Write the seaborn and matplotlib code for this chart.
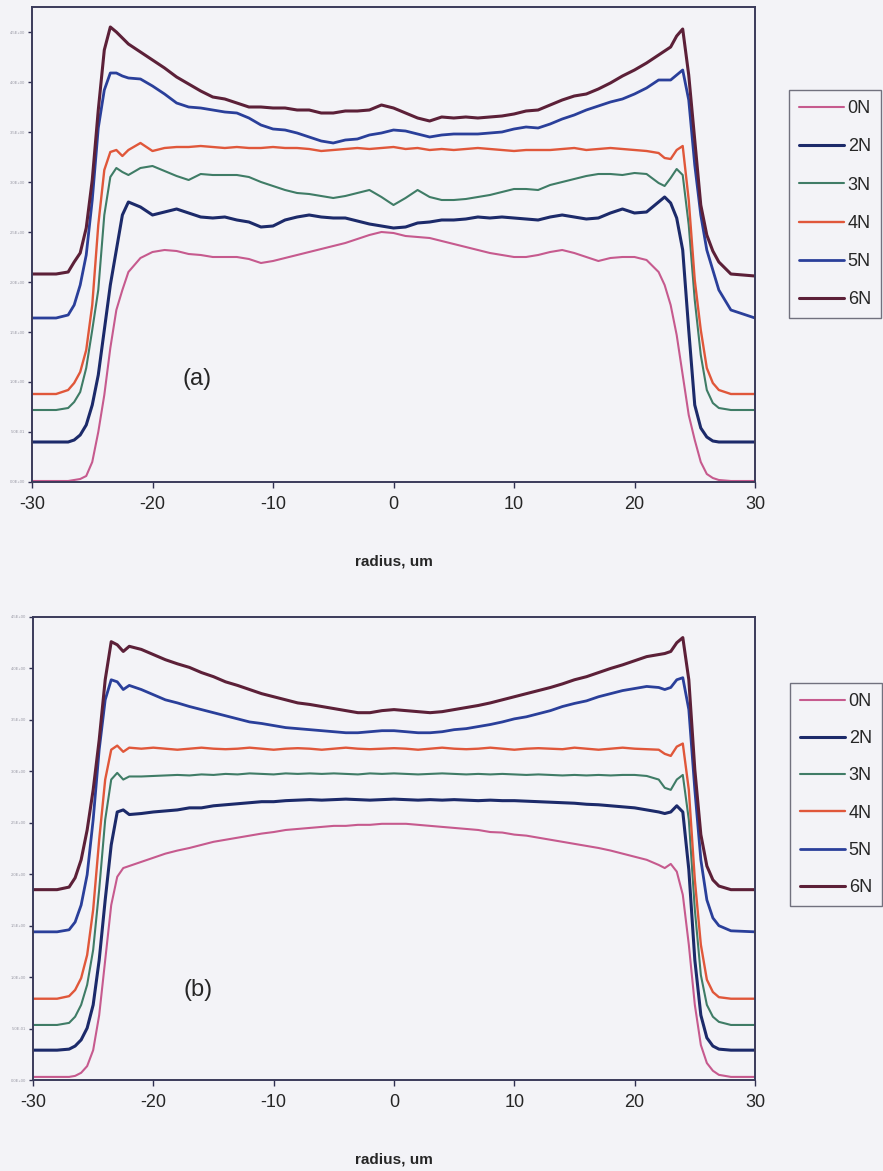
import numpy as np
import pandas as pd
import matplotlib
matplotlib.use('Agg')
import matplotlib.pyplot as plt
import seaborn as sns

# radius grid (um) shared by all profiles
radius = [-30, -28, -27, -26.5, -26, -25.5, -25, -24.5, -24, -23.5, -23, -22.5, -22,
          -21, -20, -19, -18, -17, -16, -15, -14, -13, -12, -11, -10, -9, -8, -7, -6, -5,
          -4, -3, -2, -1, 0, 1, 2, 3, 4, 5, 6, 7, 8, 9, 10, 11, 12, 13, 14, 15, 16, 17,
          18, 19, 20, 21,
          22, 22.5, 23, 23.5, 24, 24.5, 25, 25.5, 26, 26.5, 27, 28, 30]

loads = ['0N', '2N', '3N', '4N', '5N', '6N']

# panel (a) profiles
a_0N = [0.02, 0.02, 0.02, 0.04, 0.06, 0.12, 0.4, 1.0, 1.74, 2.68, 3.44, 3.84, 4.2,
        4.48, 4.6, 4.64, 4.62, 4.56, 4.54, 4.5, 4.5, 4.5, 4.46, 4.38, 4.42, 4.48, 4.54, 4.6, 4.66, 4.72,
        4.78, 4.86, 4.94, 5.0, 4.98, 4.92, 4.9, 4.88, 4.82, 4.76, 4.7, 4.64, 4.58, 4.54, 4.5, 4.5,
        4.54, 4.6, 4.64, 4.58, 4.5, 4.42, 4.48, 4.5, 4.5, 4.44,
        4.2, 3.94, 3.54, 2.94, 2.14, 1.34, 0.84, 0.4, 0.16, 0.08, 0.04, 0.02, 0.02]
a_2N = [0.8, 0.8, 0.8, 0.84, 0.94, 1.14, 1.54, 2.14, 3.04, 3.94, 4.64, 5.34, 5.6,
        5.5, 5.34, 5.4, 5.46, 5.38, 5.3, 5.28, 5.3, 5.24, 5.2, 5.1, 5.12, 5.24, 5.3, 5.34, 5.3, 5.28,
        5.28, 5.22, 5.16, 5.12, 5.08, 5.1, 5.18, 5.2, 5.24, 5.24, 5.26, 5.3, 5.28, 5.3, 5.28, 5.26,
        5.24, 5.3, 5.34, 5.3, 5.26, 5.28, 5.38, 5.46, 5.38, 5.4,
        5.6, 5.7, 5.58, 5.28, 4.64, 3.04, 1.54, 1.08, 0.9, 0.82, 0.8, 0.8, 0.8]
a_3N = [1.44, 1.44, 1.48, 1.6, 1.8, 2.28, 3.04, 3.84, 5.34, 6.1, 6.28, 6.2, 6.14,
        6.28, 6.32, 6.22, 6.12, 6.04, 6.16, 6.14, 6.14, 6.14, 6.1, 6.0, 5.92, 5.84, 5.78, 5.76, 5.72, 5.68,
        5.72, 5.78, 5.84, 5.7, 5.54, 5.68, 5.84, 5.7, 5.64, 5.64, 5.66, 5.7, 5.74, 5.8, 5.86, 5.86,
        5.84, 5.94, 6.0, 6.06, 6.12, 6.16, 6.16, 6.14, 6.18, 6.16,
        5.98, 5.92, 6.08, 6.26, 6.14, 5.14, 3.64, 2.54, 1.84, 1.58, 1.48, 1.44, 1.44]
a_4N = [1.76, 1.76, 1.84, 1.98, 2.2, 2.64, 3.54, 5.14, 6.24, 6.6, 6.64, 6.52, 6.64,
        6.78, 6.62, 6.68, 6.7, 6.7, 6.72, 6.7, 6.68, 6.7, 6.68, 6.68, 6.7, 6.68, 6.68, 6.66, 6.62, 6.64,
        6.66, 6.68, 6.66, 6.68, 6.7, 6.66, 6.68, 6.64, 6.66, 6.64, 6.66, 6.68, 6.66, 6.64, 6.62, 6.64,
        6.64, 6.64, 6.66, 6.68, 6.64, 6.66, 6.68, 6.66, 6.64, 6.62,
        6.58, 6.48, 6.46, 6.64, 6.72, 5.64, 4.04, 3.04, 2.28, 1.98, 1.84, 1.76, 1.76]
a_5N = [3.28, 3.28, 3.34, 3.54, 3.94, 4.54, 5.64, 7.08, 7.84, 8.18, 8.18, 8.12, 8.08,
        8.06, 7.92, 7.76, 7.58, 7.5, 7.48, 7.44, 7.4, 7.38, 7.28, 7.14, 7.06, 7.04, 6.98, 6.9, 6.82, 6.78,
        6.84, 6.86, 6.94, 6.98, 7.04, 7.02, 6.96, 6.9, 6.94, 6.96, 6.96, 6.96, 6.98, 7.0, 7.06, 7.1,
        7.08, 7.16, 7.26, 7.34, 7.44, 7.52, 7.6, 7.66, 7.76, 7.88,
        8.04, 8.04, 8.04, 8.14, 8.24, 7.64, 6.34, 5.34, 4.64, 4.24, 3.84, 3.44, 3.28]
a_6N = [4.16, 4.16, 4.2, 4.4, 4.58, 5.08, 6.04, 7.44, 8.64, 9.1, 9.0, 8.88, 8.76,
        8.6, 8.44, 8.28, 8.1, 7.96, 7.82, 7.7, 7.66, 7.58, 7.5, 7.5, 7.48, 7.48, 7.44, 7.44, 7.38, 7.38,
        7.42, 7.42, 7.44, 7.54, 7.48, 7.38, 7.28, 7.22, 7.3, 7.28, 7.3, 7.28, 7.3, 7.32, 7.36, 7.42,
        7.44, 7.54, 7.64, 7.72, 7.76, 7.86, 7.98, 8.12, 8.24, 8.38,
        8.54, 8.62, 8.7, 8.92, 9.06, 8.14, 6.84, 5.54, 4.94, 4.62, 4.4, 4.16, 4.12]

# panel (b) profiles
b_0N = [0.06, 0.06, 0.06, 0.08, 0.14, 0.27, 0.58, 1.26, 2.33, 3.4, 3.95, 4.12, 4.16,
        4.24, 4.32, 4.4, 4.46, 4.51, 4.57, 4.63, 4.67, 4.71, 4.75, 4.79, 4.82, 4.86, 4.88, 4.9, 4.92, 4.94,
        4.94, 4.96, 4.96, 4.98, 4.98, 4.98, 4.96, 4.94, 4.92, 4.9, 4.88, 4.86, 4.82, 4.81, 4.77, 4.75,
        4.71, 4.67, 4.63, 4.59, 4.55, 4.51, 4.46, 4.4, 4.34, 4.28,
        4.18, 4.12, 4.2, 4.05, 3.6, 2.63, 1.46, 0.68, 0.33, 0.18, 0.1, 0.06, 0.06]
b_2N = [0.58, 0.58, 0.6, 0.66, 0.78, 1.01, 1.46, 2.33, 3.5, 4.57, 5.21, 5.25, 5.16,
        5.18, 5.21, 5.23, 5.25, 5.29, 5.29, 5.33, 5.35, 5.37, 5.39, 5.41, 5.41, 5.43, 5.44, 5.45, 5.44, 5.45,
        5.46, 5.45, 5.44, 5.45, 5.46, 5.45, 5.44, 5.45, 5.44, 5.45, 5.44, 5.43, 5.44, 5.43, 5.43, 5.42,
        5.41, 5.4, 5.39, 5.38, 5.36, 5.35, 5.33, 5.31, 5.29, 5.25,
        5.21, 5.18, 5.21, 5.33, 5.21, 4.09, 2.33, 1.26, 0.82, 0.66, 0.6, 0.58, 0.58]
b_3N = [1.07, 1.07, 1.11, 1.23, 1.46, 1.85, 2.53, 3.7, 5.06, 5.84, 5.97, 5.84, 5.9,
        5.9, 5.91, 5.92, 5.93, 5.92, 5.94, 5.93, 5.95, 5.94, 5.96, 5.95, 5.94, 5.96, 5.95, 5.96, 5.95, 5.96,
        5.95, 5.94, 5.96, 5.95, 5.96, 5.95, 5.94, 5.95, 5.96, 5.95, 5.94, 5.95, 5.94, 5.95, 5.94, 5.93,
        5.94, 5.93, 5.92, 5.93, 5.92, 5.93, 5.92, 5.93, 5.93, 5.91,
        5.84, 5.68, 5.64, 5.84, 5.93, 5.06, 3.31, 2.04, 1.46, 1.23, 1.13, 1.07, 1.07]
b_4N = [1.58, 1.58, 1.63, 1.75, 1.98, 2.43, 3.31, 4.67, 5.84, 6.42, 6.5, 6.38, 6.46,
        6.44, 6.46, 6.44, 6.42, 6.44, 6.46, 6.44, 6.43, 6.44, 6.46, 6.44, 6.42, 6.44, 6.45, 6.44, 6.42, 6.44,
        6.46, 6.44, 6.43, 6.44, 6.45, 6.44, 6.42, 6.44, 6.46, 6.44, 6.43, 6.44, 6.46, 6.44, 6.42, 6.44,
        6.45, 6.44, 6.43, 6.46, 6.44, 6.42, 6.44, 6.46, 6.44, 6.43,
        6.42, 6.34, 6.3, 6.48, 6.54, 5.64, 3.89, 2.63, 1.95, 1.71, 1.61, 1.58, 1.58]
b_5N = [2.88, 2.88, 2.92, 3.07, 3.4, 3.99, 5.06, 6.42, 7.39, 7.78, 7.74, 7.59, 7.67,
        7.59, 7.49, 7.39, 7.33, 7.26, 7.2, 7.14, 7.08, 7.02, 6.96, 6.93, 6.89, 6.85, 6.83, 6.81, 6.79, 6.77,
        6.75, 6.75, 6.77, 6.79, 6.79, 6.77, 6.75, 6.75, 6.77, 6.81, 6.83, 6.87, 6.91, 6.96, 7.02, 7.06,
        7.12, 7.18, 7.26, 7.32, 7.37, 7.45, 7.51, 7.57, 7.61, 7.65,
        7.63, 7.59, 7.63, 7.78, 7.82, 7.2, 5.64, 4.28, 3.5, 3.15, 3.0, 2.9, 2.88]
b_6N = [3.7, 3.7, 3.75, 3.93, 4.28, 4.86, 5.64, 6.61, 7.78, 8.52, 8.46, 8.33, 8.43,
        8.37, 8.27, 8.17, 8.09, 8.02, 7.92, 7.84, 7.74, 7.67, 7.59, 7.51, 7.45, 7.39, 7.33, 7.3, 7.26, 7.22,
        7.18, 7.14, 7.14, 7.18, 7.2, 7.18, 7.16, 7.14, 7.16, 7.2, 7.24, 7.28, 7.33, 7.39, 7.45, 7.51,
        7.57, 7.63, 7.7, 7.78, 7.84, 7.92, 8.0, 8.07, 8.15, 8.23,
        8.27, 8.29, 8.33, 8.5, 8.6, 7.78, 6.03, 4.77, 4.16, 3.89, 3.77, 3.7, 3.7]

colors = {'0N': '#c65a8e', '2N': '#1c2a6a', '3N': '#3f7c66',
          '4N': '#e0573a', '5N': '#2a3f9a', '6N': '#5c2038'}
widths = {'0N': 1.5, '2N': 2.2, '3N': 1.5, '4N': 1.7, '5N': 2.0, '6N': 2.2}


def to_long(series):
    frames = []
    for load, vals in zip(loads, series):
        frames.append(pd.DataFrame({'radius': radius, 'signal': vals, 'load': load}))
    return pd.concat(frames, ignore_index=True)


df_a = to_long([a_0N, a_2N, a_3N, a_4N, a_5N, a_6N])
df_b = to_long([b_0N, b_2N, b_3N, b_4N, b_5N, b_6N])

sns.set_style('ticks')
plt.rcParams['font.family'] = ['Liberation Sans', 'DejaVu Sans']
bg = '#f3f3f7'

W, H = 883, 1171
fig = plt.figure(figsize=(W / 100, H / 100), dpi=100, facecolor=bg)


def draw_panel(df, rect, ytop, tag, tag_y, legend_xy, spacing):
    ax = fig.add_axes([rect[0] / W, 1 - rect[3] / H, (rect[2] - rect[0]) / W, (rect[3] - rect[1]) / H])
    ax.set_facecolor(bg)
    sns.lineplot(data=df, x='radius', y='signal', hue='load', hue_order=loads,
                 palette=colors, estimator=None, sort=False, ax=ax)
    for line, load in zip(ax.lines, loads):
        line.set_linewidth(widths[load])
    ax.set_xlim(-30, 30)
    ax.set_ylim(0, ytop)
    ax.set_xticks([-30, -20, -10, 0, 10, 20, 30])
    ax.set_xticklabels(['-30', '-20', '-10', '0', '10', '20', '30'], fontsize=13)
    ax.set_yticks(range(10))
    ax.set_yticklabels([f'{v * 0.5:.1E}' for v in range(10)], fontsize=3, color='#9a9aa6')
    ax.tick_params(axis='x', length=4, width=1, color='#303050', pad=6)
    ax.tick_params(axis='y', length=3, width=1, color='#303050', pad=2)
    for sp in ax.spines.values():
        sp.set_color('#3a3a5a')
        sp.set_linewidth(1.4)
    ax.set_xlabel('radius, um', fontsize=11, fontweight='bold', labelpad=30)
    ax.set_ylabel('')
    ax.text(-16.3, tag_y, tag, fontsize=17, ha='center', va='center')
    ax.get_legend().remove()
    leg = ax.legend(ax.lines[:6], loads, loc='upper left',
                    bbox_to_anchor=(legend_xy[0] / W, 1 - legend_xy[1] / H),
                    bbox_transform=fig.transFigure, fontsize=13, frameon=True,
                    fancybox=False, handlelength=2.5, handletextpad=0.2,
                    labelspacing=spacing, borderpad=0.55, borderaxespad=0)
    leg.get_frame().set_edgecolor('#505060')
    leg.get_frame().set_facecolor(bg)
    leg.get_frame().set_linewidth(1.0)
    return ax


ax_a = draw_panel(df_a, (32, 7, 755, 482), 9.5, '(a)', 2.05, (789, 90), 1.18)
ax_b = draw_panel(df_b, (33, 617, 755, 1080), 9.0, '(b)', 1.75, (790, 683), 1.12)

fig.savefig('out.png', dpi=100, facecolor=bg)
